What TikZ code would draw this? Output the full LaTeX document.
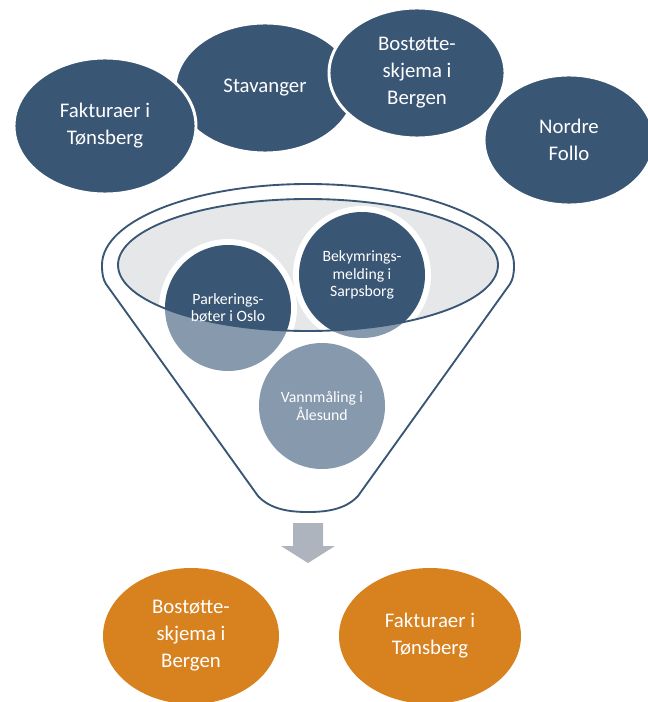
\documentclass[tikz,border=0pt]{standalone}
\usepackage{fontspec}
\setmainfont{Carlito}
\usetikzlibrary{shapes.geometric, positioning}
\definecolor{navy}{HTML}{3A5675}
\definecolor{paleblue}{HTML}{8799AD}
\definecolor{rimgray}{HTML}{E6E7E9}
\definecolor{arrowgray}{HTML}{ADB4BE}
\definecolor{amber}{HTML}{D7811F}
\tikzset{
  city/.style={ellipse, fill=navy, draw=white, line width=2.2pt, inner sep=0pt,
    text=white, align=center, font=\fontsize{15.6}{20.25}\selectfont},
  result/.style={city, fill=amber, draw=none},
  bubble/.style={circle, minimum size=94.5pt, inner sep=0pt, fill=paleblue},
  bubbletext/.style={text=white, align=center, font=\fontsize{11.8}{13.1}\selectfont},
  funnelline/.style={draw=navy, line width=1.4pt}
}
\begin{document}
\begin{tikzpicture}[x=0.75pt, y=-0.75pt]
  \useasboundingbox (0,0) rectangle (647,702);

  \node[city, minimum width=135pt, minimum height=97.5pt] (stavanger) at (265,88) {Stavanger};
  \node[city, minimum width=136.5pt, minimum height=102pt] (fakturaer) at (105,126) {Fakturaer i\\Tønsberg};
  \node[city, minimum width=132pt, minimum height=97.5pt] (bostotte) at (417,73) {Bostøtte-\\skjema i\\Bergen};
  \node[city, minimum width=127.5pt, minimum height=97.5pt] (nordre) at (569,140) {Nordre\\Follo};

  \draw[funnelline] (102,265) .. controls (102,220.3) and (194.2,184) .. (308,184)
    .. controls (421.8,184) and (514,220.3) .. (514,265)
    .. controls (514,274) and (513,279) .. (510,284) -- (358,496)
    .. controls (345,510) and (325,512) .. (308,512)
    .. controls (291,512) and (271,510) .. (258,496) -- (106,284)
    .. controls (103,279) and (102,274) .. (102,265);
  \node[ellipse, fill=rimgray, minimum width=285pt, minimum height=99pt, inner sep=0pt] (rim) at (308,265) {};

  \node[bubble] (parkering) at (228,308) {};
  \node[bubble] (bekymring) at (362,275) {};
  \node[bubble] (vannmaling) at (322,406) {};
  \begin{scope}
    \clip (rim.center) ellipse [x radius=142.5pt, y radius=49.5pt];
    \foreach \b in {parkering, bekymring} {
      \fill[white] (\b.center) circle [radius=51.75pt];
      \fill[navy] (\b.center) circle [radius=47.25pt];
    }
  \end{scope}
  \draw[funnelline] (rim.center) ellipse [x radius=142.5pt, y radius=49.5pt];

  \node[bubbletext] at (parkering) {Parkerings-\\bøter i Oslo};
  \node[bubbletext] at (bekymring) {Bekymrings-\\melding i\\Sarpsborg};
  \node[bubbletext] at (vannmaling) {Vannmåling i\\Ålesund};

  \fill[arrowgray] (293,523) -- (323,523) -- (323,546) -- (335,546) -- (308,563)
    -- (281,546) -- (293,546) -- cycle;

  \node[result, minimum width=132pt, minimum height=102pt] (bostotte2) at (191,636) {Bostøtte-\\skjema i\\Bergen};
  \node[result, minimum width=136.5pt, minimum height=102pt] (fakturaer2) at (430,636) {Fakturaer i\\Tønsberg};
\end{tikzpicture}
\end{document}
